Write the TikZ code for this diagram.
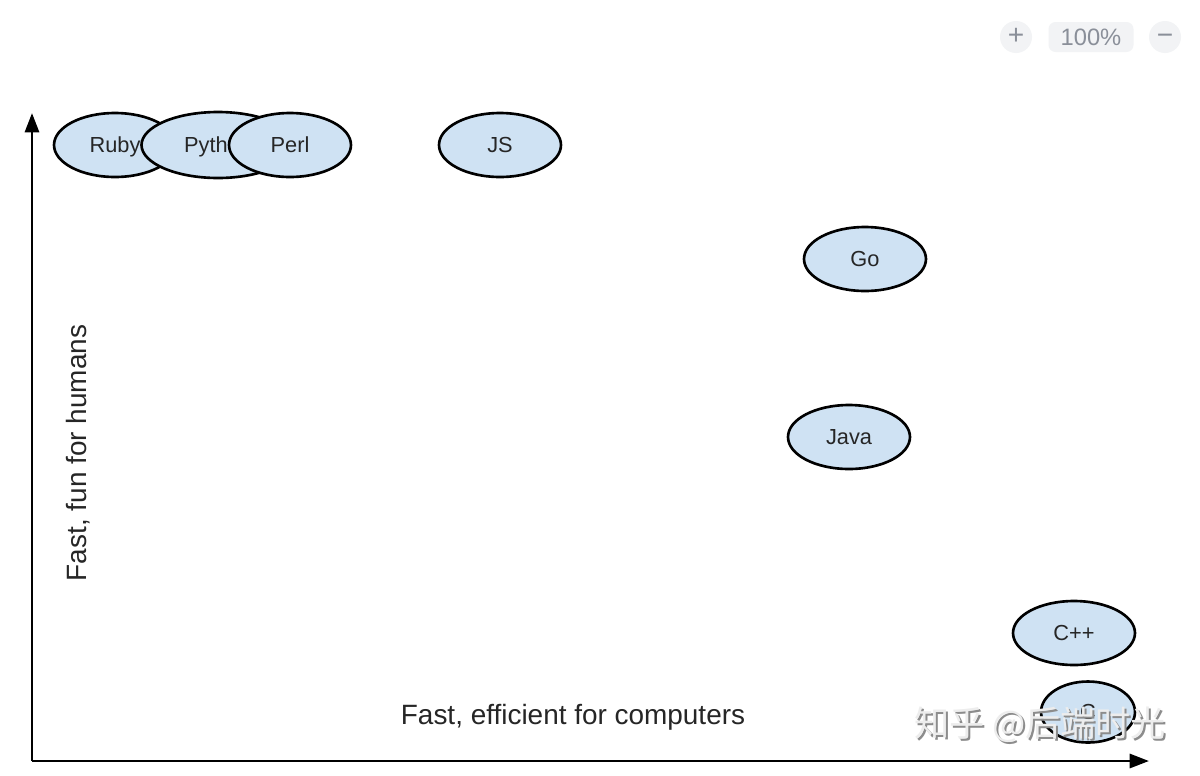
\documentclass[tikz,border=0pt]{standalone}
\usepackage{fontspec}
\setmainfont{Liberation Sans}
\newfontfamily\cjk{Noto Sans CJK SC}
\usepackage{tikz}
\usetikzlibrary{shapes.geometric}
\usetikzlibrary{arrows.meta}
\usetikzlibrary{positioning}
\definecolor{bubble}{HTML}{CFE2F3}
\definecolor{uigray}{HTML}{8A8F99}
\definecolor{uifill}{HTML}{F2F3F5}

\begin{document}
\begin{tikzpicture}[x=0.02cm,y=-0.02cm,
  lang/.style={ellipse,draw=black,line width=1.5pt,fill=bubble,inner sep=0pt,
    minimum width=2.44cm,minimum height=1.28cm,text=black!85,
    text height=0.9em,text depth=0pt,
    font=\fontsize{12.4}{14}\selectfont},
  axis/.style={line width=1.6pt,-{Triangle[length=11pt,width=8pt]}},
  axislabel/.style={font=\fontsize{15.9}{18}\selectfont,text=black!85},
  uibtn/.style={circle,fill=uifill,minimum size=0.64cm,inner sep=0pt,text=uigray,
    text height=0.8em,text depth=0pt,font=\fontsize{16}{16}\selectfont}]
\useasboundingbox[fill=white] (0,0) rectangle (1200,775);
% axes
\coordinate (o) at (32,761);
\coordinate (ytip) at (32,113);
\coordinate (xtip) at (1149,761);
\draw[axis] (o) -- (ytip);
\draw[axis] (o) -- (xtip);
\node[axislabel] (xlab) at (573,717) {Fast, efficient for computers};
\node[axislabel,rotate=90] (ylab) at (78,453) {Fast, fun for humans};
% languages
\node[lang] (ruby) at (115,145) {Ruby};
\node[lang,minimum width=3.06cm,minimum height=1.32cm] (python) at (218,145) {Python};
\node[lang] (perl) at (290,145) {Perl};
\node[lang] (js) at (500,145) {JS};
\node[lang] (go) at (865,259) {Go};
\node[lang] (java) at (849,437) {Java};
\node[lang] (cpp) at (1074,633) {C++};
\node[lang,minimum width=1.88cm,minimum height=1.22cm] (c) at (1088,712) {C};
% zoom bar and watermark
\node[uibtn] (plus) at (1016,37) {+};
\node[fill=uifill,rounded corners=4pt,minimum width=1.7cm,minimum height=0.6cm,
  text=uigray,font=\fontsize{13.5}{14}\selectfont] (zoom) at (1091,37) {100\%};
\node[uibtn] (minus) at (1165,37) {−};
\node[text=black!45,font=\cjk\fontsize{20}{21}\selectfont] (wmshade) at (1042,727) {知乎 @后端时光};
\node[text=white!93!black,font=\cjk\fontsize{20}{21}\selectfont] (wm) at (1040,725) {知乎 @后端时光};
\end{tikzpicture}
\end{document}
